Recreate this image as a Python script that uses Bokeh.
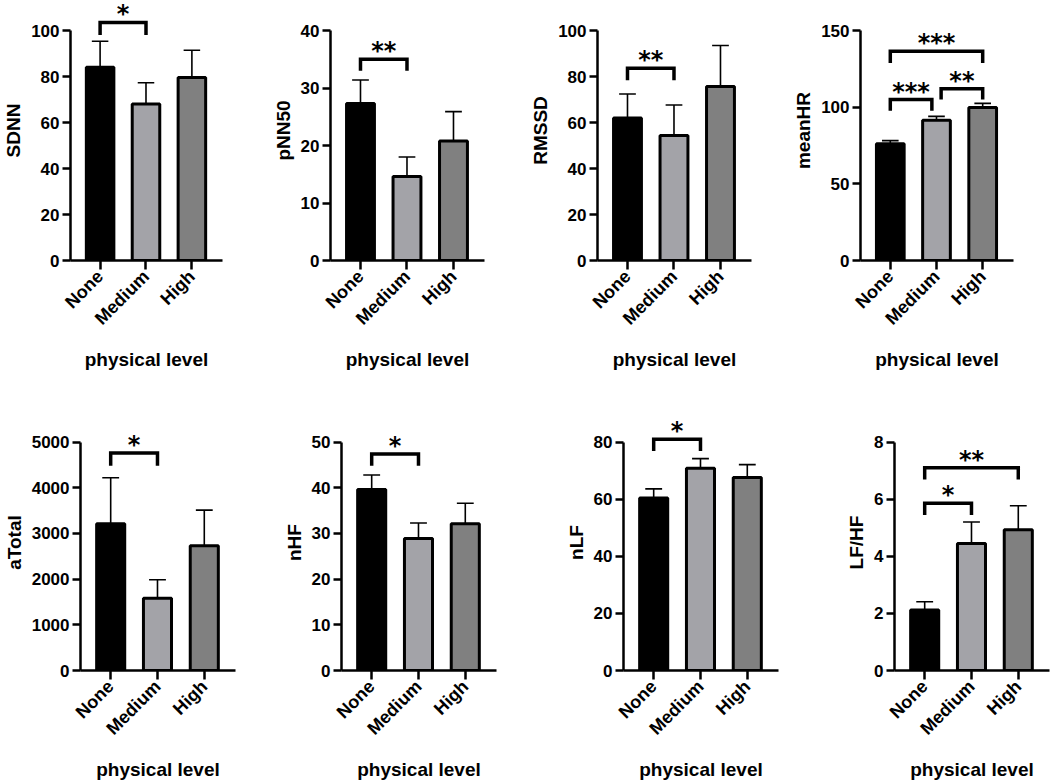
import math
from bokeh.plotting import figure
from bokeh.layouts import column, row
from bokeh.models import Range1d, FixedTicker
from bokeh.embed import file_html
from bokeh.resources import INLINE
from bokeh.core.properties import value

# ---------------- data ----------------
groups = ["None", "Medium", "High"]
group_x = [1, 2, 3]
bar_colors = ["#000000", "#a3a3a8", "#808080"]
x_label = "physical level"

sdnn_mean = [84.0, 68.0, 79.6]
sdnn_err = [11.3, 9.3, 11.8]
pnn50_mean = [27.3, 14.6, 20.8]
pnn50_err = [4.1, 3.4, 5.1]
rmssd_mean = [62.0, 54.3, 75.6]
rmssd_err = [10.4, 13.3, 17.9]
meanhr_mean = [76.2, 91.5, 99.8]
meanhr_err = [2.0, 2.5, 2.7]
atotal_mean = [3210, 1580, 2730]
atotal_err = [1010, 405, 780]
nhf_mean = [39.6, 28.9, 32.1]
nhf_err = [3.2, 3.4, 4.5]
nlf_mean = [60.4, 70.8, 67.6]
nlf_err = [3.2, 3.4, 4.5]
lfhf_mean = [2.12, 4.45, 4.93]
lfhf_err = [0.29, 0.75, 0.84]

# significance: (group a, group b, bracket top, leg end, label)
sdnn_sig = [(1, 2, 103.5, 98.0, "*")]
pnn50_sig = [(1, 2, 35.0, 33.0, "**")]
rmssd_sig = [(1, 2, 83.6, 78.4, "**")]
meanhr_sig = [(1, 1.9, 105.0, 97.7, "***"), (2.1, 3, 112.0, 105.0, "**"), (1, 3, 136.5, 128.8, "***")]
atotal_sig = [(1, 2, 4763, 4483, "*")]
nhf_sig = [(1, 2, 47.4, 44.8, "*")]
nlf_sig = [(1, 2, 81.0, 76.9, "*")]
lfhf_sig = [(1, 2, 5.86, 5.45, "*"), (1, 3, 7.1, 6.69, "**")]

FONT = "Liberation Sans"


def make_panel(ylabel, means, errs, ymax, ystep, sigs, width, left, right,
               height, top, bottom, axis_h):
    frame_h = height - top - bottom
    y_end = ymax * frame_h / axis_h
    p = figure(width=width, height=height, output_backend="svg",
               toolbar_location=None, x_range=Range1d(0.355, 3.667),
               y_range=Range1d(0, y_end), min_border_left=left,
               min_border_right=right, min_border_top=top,
               min_border_bottom=bottom)
    p.outline_line_color = None
    p.xgrid.visible = False
    p.ygrid.visible = False
    p.background_fill_color = "white"

    p.vbar(x=group_x, top=means, width=0.6, fill_color=bar_colors,
           line_color="black", line_width=3)
    tops = [m + e for m, e in zip(means, errs)]
    p.segment(x0=group_x, y0=means, x1=group_x, y1=tops,
              line_color="black", line_width=1.6)
    p.segment(x0=[x - 0.18 for x in group_x], y0=tops,
              x1=[x + 0.18 for x in group_x], y1=tops,
              line_color="black", line_width=1.6)

    xs, ys, tx, ty, tt = [], [], [], [], []
    for a, b, yt, yl, lab in sigs:
        xs.append([a, a, b, b])
        ys.append([yl, yt, yt, yl])
        tx.append((a + b) / 2)
        ty.append(yt)
        tt.append(lab)
    p.multi_line(xs=xs, ys=ys, line_color="black", line_width=3.5,
                 line_join="miter")
    p.text(x=tx, y=ty, text=tt, text_font=value("DejaVu Sans"),
           text_font_style="bold", text_font_size="24px",
           text_align="center", text_baseline="alphabetic", y_offset=-8,
           text_color="black")

    # axes
    for ax in (p.xaxis[0], p.yaxis[0]):
        ax.axis_line_width = 2.5
        ax.axis_line_color = "black"
        ax.major_tick_line_width = 2.5
        ax.major_tick_line_color = "black"
        ax.major_tick_in = 0
        ax.minor_tick_line_color = None
        ax.major_label_text_font = FONT
        ax.major_label_text_font_style = "bold"
        ax.major_label_text_color = "black"
        ax.axis_label_text_font = FONT
        ax.axis_label_text_font_style = "bold"
        ax.axis_label_text_color = "black"
        ax.axis_label_text_font_size = "19px"

    ya = p.yaxis[0]
    ya.ticker = FixedTicker(ticks=[ystep * i for i in range(int(round(ymax / ystep)) + 1)])
    ya.bounds = (0, ymax)
    ya.major_tick_out = 8
    ya.major_label_text_font_size = "17px"
    ya.major_label_standoff = 3
    ya.axis_label = ylabel
    ya.axis_label_standoff = 4

    xa = p.xaxis[0]
    xa.ticker = FixedTicker(ticks=group_x)
    xa.major_label_overrides = {x: g for x, g in zip(group_x, groups)}
    xa.major_label_orientation = math.pi / 4
    xa.major_tick_out = 9
    xa.major_label_text_font_size = "18px"
    xa.major_label_standoff = 4
    xa.axis_label = x_label
    xa.axis_label_standoff = 10
    return p


H1, T1, B1 = 392, 0, 132
H2, T2, B2 = 390, 22, 108
AX1, AX2 = 230, 232

f1 = make_panel("SDNN", sdnn_mean, sdnn_err, 100, 20, sdnn_sig, 262, 68, 40, H1, T1, B1, AX1)
f2 = make_panel("pNN50", pnn50_mean, pnn50_err, 40, 10, pnn50_sig, 262, 68, 40, H1, T1, B1, AX1)
f3 = make_panel("RMSSD", rmssd_mean, rmssd_err, 100, 20, rmssd_sig, 266, 73, 39, H1, T1, B1, AX1)
f4 = make_panel("meanHR", meanhr_mean, meanhr_err, 150, 50, meanhr_sig, 260, 69, 37, H1, T1, B1, AX1)

f5 = make_panel("aTotal", atotal_mean, atotal_err, 5000, 1000, atotal_sig, 270, 80, 35, H2, T2, B2, AX2)
f6 = make_panel("nHF", nhf_mean, nhf_err, 50, 10, nhf_sig, 262, 71, 36, H2, T2, B2, AX2)
f7 = make_panel("nLF", nlf_mean, nlf_err, 80, 20, nlf_sig, 268, 91, 22, H2, T2, B2, AX2)
f8 = make_panel("LF/HF", lfhf_mean, lfhf_err, 8, 2, lfhf_sig, 250, 94, 1, H2, T2, B2, AX2)

layout = column(row(f1, f2, f3, f4, spacing=0), row(f5, f6, f7, f8, spacing=0), spacing=0)

with open("out.html", "w") as fh:
    fh.write(file_html(layout, INLINE))
